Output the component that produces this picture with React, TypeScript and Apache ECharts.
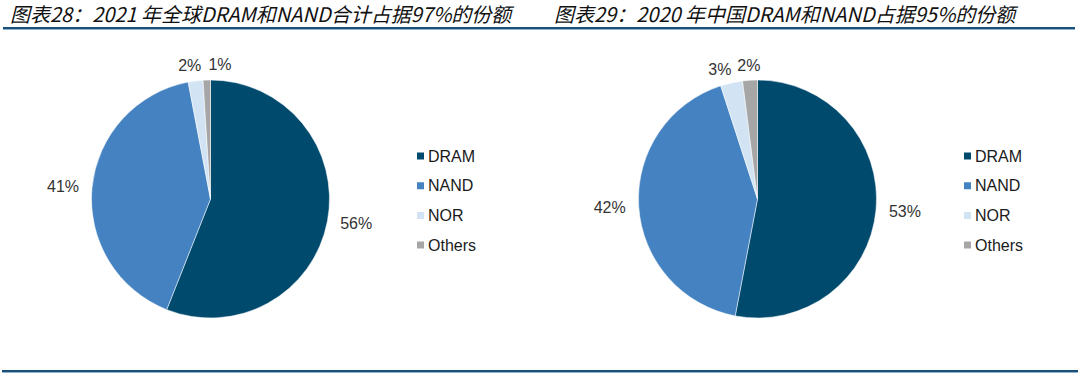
import React, { useEffect, useRef } from "react";
import * as echarts from "echarts";

const categories = ["DRAM", "NAND", "NOR", "Others"];
const colors = ["#004a6e", "#4482c1", "#d2e4f4", "#a6a6a6"];
const share2021 = [56, 41, 2, 1];
const share2020 = [53, 42, 3, 2];
const title2021 = "图表28：2021 年全球DRAM和NAND合计占据97%的份额";
const title2020 = "图表29：2020 年中国DRAM和NAND占据95%的份额";

export default function App() {
  const ref = useRef<HTMLDivElement>(null);
  useEffect(() => {
    document.body.style.margin = "0";
    const chart = echarts.init(ref.current!, null, { renderer: "svg" });
    const mk = (vals: number[]) =>
      categories.map((n, i) => ({ name: n, value: vals[i], itemStyle: { color: colors[i] } }));
    const labelCommon = {
      show: true,
      position: "outside",
      formatter: "{c}%",
      fontSize: 16,
      fontFamily: "Liberation Sans, Arial, sans-serif",
      color: "#333333",
    };
    const legendCommon = {
      orient: "vertical",
      top: 148,
      padding: 0,
      itemWidth: 9,
      itemHeight: 9,
      itemGap: 13.7,
      icon: "rect",
      data: categories,
      selectedMode: false,
      textStyle: { fontSize: 16, fontFamily: "Liberation Sans, Arial, sans-serif", color: "#1a1a1a", padding: [0, 0, 0, -2] },
    };
    const titleStyle = { fontSize: 20, lineHeight: 24, fontStyle: "italic", fontFamily: "Noto Sans CJK SC", fill: "#111" };
    chart.setOption({
      animation: false,
      legend: [
        { ...legendCommon, left: 415 },
        { ...legendCommon, left: 962 },
      ],
      graphic: [
        { type: "text", left: 10, top: 1, style: { text: title2021, ...titleStyle } },
        { type: "text", left: 554, top: 1, style: { text: title2020, ...titleStyle } },
        { type: "rect", shape: { x: 3, y: 27, width: 1072, height: 2 }, style: { fill: "#1b4f78" } },
        { type: "rect", shape: { x: 3, y: 29, width: 1072, height: 1 }, style: { fill: "#8fb3cf" } },
        { type: "rect", shape: { x: 2, y: 370, width: 1076, height: 2 }, style: { fill: "#1b4f78" } },
        { type: "rect", shape: { x: 2, y: 372, width: 1076, height: 1 }, style: { fill: "#8fb3cf" } },
      ],
      series: [
        {
          type: "pie",
          center: [210.5, 199],
          radius: 119,
          startAngle: 90,
          clockwise: true,
          avoidLabelOverlap: false,
          label: labelCommon,
          labelLine: { show: false, length: 10, length2: -2 },
          labelLayout: (p: any) =>
            p.dataIndex === 3 ? { align: "left", dx: 5, dy: -6 } : p.dataIndex === 2 ? { dx: 10, dy: -6 } : {},
          itemStyle: { borderColor: "#ffffff", borderWidth: 0.5 },
          emphasis: { disabled: true },
          data: mk(share2021),
        },
        {
          type: "pie",
          center: [757.5, 199],
          radius: 119,
          startAngle: 90,
          clockwise: true,
          avoidLabelOverlap: false,
          label: labelCommon,
          labelLine: { show: false, length: 10, length2: -2 },
          labelLayout: (p: any) =>
            p.dataIndex === 2 ? { dx: 5, dy: -4 } : p.dataIndex === 3 ? { dx: 14, dy: -5 } : {},
          itemStyle: { borderColor: "#ffffff", borderWidth: 0.5 },
          emphasis: { disabled: true },
          data: mk(share2020),
        },
      ],
    });
    return () => chart.dispose();
  }, []);
  return <div ref={ref} style={{ width: 1080, height: 377 }} />;
}
